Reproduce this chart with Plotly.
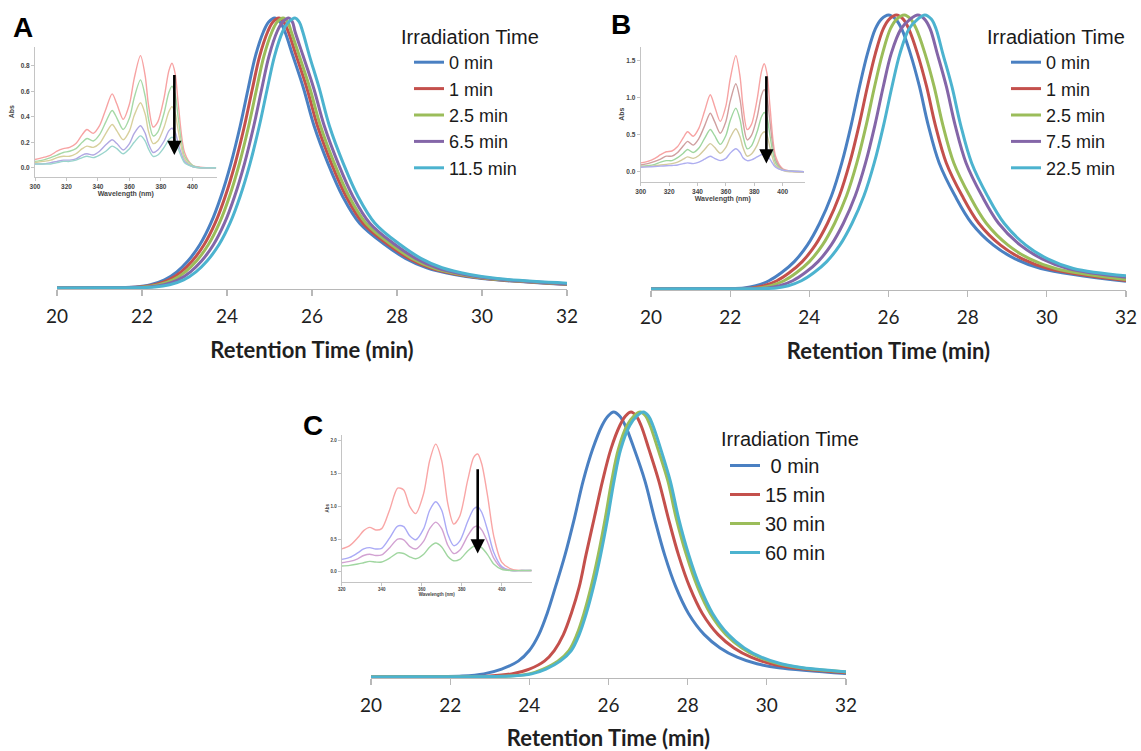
import plotly.graph_objects as go

W, H = 1141, 751

# ---------------- main chromatograms (normalised detector response) ----------------
# each curve: retention times (min) at which it crosses the response levels listed
COLORS_MAIN = ['#4a80c2', '#c4504c', '#9bbd5a', '#8466a8', '#4cb3cf']

LABELS_A = ['0 min', '1 min', '2.5 min', '6.5 min', '11.5 min']
LEVELS_A = [0, 0.001, 0.004, 0.012, 0.03, 0.06, 0.1, 0.16, 0.24, 0.34, 0.46, 0.6, 0.74, 0.86, 0.95, 0.985, 1.0,
            0.985, 0.95, 0.86, 0.74, 0.6, 0.46, 0.34, 0.24, 0.16, 0.11, 0.075, 0.05, 0.035]
A_X = [
    [20, 21, 21.85, 22.2, 22.53, 22.82, 23.08, 23.36, 23.62, 23.86, 24.09, 24.31, 24.5, 24.67, 24.86, 24.98, 25.12,
     25.25, 25.36, 25.55, 25.8, 26.05, 26.38, 26.72, 27.12, 27.72, 28.2, 28.7, 29.35, 30.0, 32],
    [20, 21, 21.95, 22.3, 22.63, 22.92, 23.18, 23.46, 23.72, 23.96, 24.19, 24.41, 24.6, 24.77, 24.96, 25.08, 25.22,
     25.34, 25.44, 25.63, 25.88, 26.13, 26.46, 26.8, 27.2, 27.8, 28.28, 28.78, 29.43, 30.08, 32],
    [20, 21, 22.05, 22.4, 22.73, 23.02, 23.28, 23.56, 23.82, 24.06, 24.29, 24.51, 24.7, 24.87, 25.06, 25.18, 25.32,
     25.43, 25.51, 25.7, 25.95, 26.2, 26.53, 26.87, 27.27, 27.87, 28.35, 28.85, 29.5, 30.15, 32],
    [20, 21, 22.17, 22.52, 22.85, 23.14, 23.4, 23.68, 23.94, 24.18, 24.41, 24.63, 24.82, 24.99, 25.18, 25.31, 25.45,
     25.54, 25.6, 25.79, 26.04, 26.29, 26.62, 26.96, 27.36, 27.96, 28.44, 28.94, 29.59, 30.24, 32],
    [20, 21, 22.3, 22.65, 22.98, 23.27, 23.53, 23.81, 24.07, 24.31, 24.54, 24.76, 24.95, 25.12, 25.31, 25.45, 25.6,
     25.7, 25.78, 25.94, 26.17, 26.41, 26.74, 27.08, 27.48, 28.08, 28.56, 29.06, 29.71, 30.36, 32],
]
A_END = [0.013, 0.014, 0.015, 0.016, 0.018]

LABELS_B = ['0 min', '1 min', '2.5 min', '7.5 min', '22.5 min']
LEVELS_B = [0, 0.001, 0.004, 0.012, 0.03, 0.06, 0.1, 0.16, 0.24, 0.34, 0.46, 0.6, 0.74, 0.86, 0.95, 0.985, 1.0,
            0.985, 0.95, 0.86, 0.74, 0.6, 0.46, 0.34, 0.24, 0.16, 0.11, 0.075]
B_X = [
    [20, 21, 22.35, 22.65, 22.98, 23.3, 23.62, 23.95, 24.26, 24.56, 24.82, 25.06, 25.27, 25.47, 25.67, 25.82, 26.0,
     26.18, 26.33, 26.55, 26.78, 27.0, 27.28, 27.68, 28.1, 28.65, 29.2, 29.85, 32],
    [20, 21, 22.55, 22.85, 23.18, 23.5, 23.82, 24.15, 24.46, 24.76, 25.02, 25.26, 25.47, 25.67, 25.87, 26.02, 26.2,
     26.37, 26.51, 26.73, 26.96, 27.18, 27.46, 27.86, 28.28, 28.83, 29.38, 30.03, 32],
    [20, 21, 22.73, 23.03, 23.36, 23.68, 24.0, 24.33, 24.64, 24.94, 25.2, 25.44, 25.65, 25.85, 26.05, 26.21, 26.4,
     26.56, 26.7, 26.92, 27.15, 27.37, 27.65, 28.05, 28.47, 29.02, 29.57, 30.22, 32],
    [20, 21, 22.95, 23.25, 23.58, 23.9, 24.22, 24.55, 24.86, 25.16, 25.42, 25.66, 25.87, 26.07, 26.32, 26.55, 26.74,
     26.91, 27.05, 27.23, 27.46, 27.68, 27.96, 28.36, 28.78, 29.33, 29.88, 30.53, 32],
    [20, 21, 23.17, 23.47, 23.8, 24.12, 24.44, 24.77, 25.08, 25.38, 25.64, 25.88, 26.09, 26.29, 26.52, 26.74, 26.92,
     27.08, 27.2, 27.37, 27.6, 27.82, 28.1, 28.5, 28.92, 29.47, 30.02, 30.67, 32],
]
B_END = [0.028, 0.031, 0.035, 0.043, 0.048]

LABELS_C = ['\u00a00 min', '15 min', '30 min', '60 min']
COLORS_C = ['#4a80c2', '#c4504c', '#9bbd5a', '#4cb3cf']
LEVELS_C = [0, 0.001, 0.004, 0.012, 0.03, 0.06, 0.1, 0.16, 0.24, 0.34, 0.46, 0.6, 0.74, 0.86, 0.95, 0.985, 1.0,
            0.985, 0.95, 0.86, 0.74, 0.6, 0.46, 0.34, 0.24, 0.16, 0.11, 0.075, 0.05, 0.035]
C_X = [
    [20, 21, 22.3, 22.85, 23.3, 23.72, 24.0, 24.24, 24.45, 24.66, 24.9, 25.14, 25.36, 25.6, 25.84, 25.99, 26.13,
     26.28, 26.42, 26.65, 26.92, 27.16, 27.42, 27.7, 28.02, 28.42, 28.82, 29.25, 29.75, 30.3, 32],
    [20, 21, 23.0, 23.55, 24.0, 24.38, 24.63, 24.86, 25.06, 25.26, 25.43, 25.64, 25.85, 26.06, 26.29, 26.43, 26.57,
     26.7, 26.82, 27.02, 27.27, 27.51, 27.77, 28.05, 28.37, 28.77, 29.17, 29.6, 30.1, 30.65, 32],
    [20, 21, 23.5, 24.0, 24.35, 24.72, 25.0, 25.2, 25.38, 25.56, 25.74, 25.92, 26.08, 26.25, 26.47, 26.64, 26.8,
     26.94, 27.05, 27.25, 27.5, 27.71, 27.97, 28.25, 28.57, 28.97, 29.37, 29.8, 30.3, 30.85, 32],
    [20, 21, 23.55, 24.06, 24.42, 24.78, 25.06, 25.26, 25.44, 25.62, 25.8, 25.98, 26.14, 26.31, 26.54, 26.72, 26.88,
     27.01, 27.12, 27.32, 27.56, 27.77, 28.03, 28.31, 28.63, 29.03, 29.43, 29.86, 30.36, 30.91, 32],
]
C_END = [0.013, 0.016, 0.019, 0.02]

X_TICKS = [20, 22, 24, 26, 28, 30, 32]

# ---------------- inset absorbance spectra ----------------
WL_AB = [300, 305, 310, 314, 318, 322, 326, 330, 333, 337, 341, 345, 349, 352, 356, 360,
         363, 367, 370, 372, 375, 378, 382, 385, 387, 389, 391, 395, 400, 405, 415]
SPEC_A = [
    [0.065, 0.08, 0.10, 0.13, 0.15, 0.16, 0.19, 0.26, 0.30, 0.27, 0.33, 0.46, 0.58, 0.50, 0.38, 0.50, 0.70, 0.88, 0.72, 0.50, 0.32, 0.36, 0.55, 0.76, 0.82, 0.74, 0.50, 0.12, 0.02, 0.005, 0.0],
    [0.05, 0.06, 0.08, 0.10, 0.12, 0.13, 0.15, 0.20, 0.23, 0.21, 0.26, 0.36, 0.45, 0.39, 0.30, 0.39, 0.55, 0.69, 0.56, 0.39, 0.25, 0.28, 0.43, 0.59, 0.64, 0.58, 0.39, 0.09, 0.02, 0.0, 0.0],
    [0.04, 0.05, 0.06, 0.08, 0.09, 0.09, 0.11, 0.15, 0.17, 0.16, 0.19, 0.27, 0.34, 0.29, 0.22, 0.29, 0.41, 0.51, 0.42, 0.29, 0.19, 0.21, 0.32, 0.44, 0.48, 0.43, 0.29, 0.07, 0.01, 0.0, 0.0],
    [0.03, 0.03, 0.04, 0.05, 0.06, 0.06, 0.07, 0.10, 0.11, 0.10, 0.13, 0.18, 0.22, 0.19, 0.14, 0.19, 0.27, 0.33, 0.27, 0.19, 0.12, 0.14, 0.21, 0.29, 0.31, 0.28, 0.19, 0.05, 0.01, 0.0, 0.0],
    [0.03, 0.03, 0.03, 0.04, 0.05, 0.05, 0.06, 0.08, 0.09, 0.08, 0.10, 0.13, 0.17, 0.15, 0.11, 0.15, 0.20, 0.25, 0.21, 0.15, 0.09, 0.10, 0.16, 0.22, 0.24, 0.22, 0.15, 0.04, 0.01, 0.0, 0.0],
]
SPEC_A_COLORS = ['#f7a3a3', '#a6d9a6', '#d8d09c', '#b1a8e2', '#9ad5cd']

SPEC_B = [
    [0.12, 0.14, 0.18, 0.23, 0.27, 0.28, 0.34, 0.46, 0.54, 0.48, 0.59, 0.82, 1.04, 0.89, 0.68, 0.89, 1.25, 1.57, 1.28, 0.89, 0.57, 0.64, 0.98, 1.35, 1.46, 1.32, 0.89, 0.21, 0.04, 0.01, 0.0],
    [0.09, 0.11, 0.14, 0.17, 0.21, 0.21, 0.26, 0.35, 0.41, 0.36, 0.45, 0.62, 0.79, 0.68, 0.52, 0.68, 0.95, 1.19, 0.97, 0.68, 0.43, 0.49, 0.74, 1.03, 1.11, 1.00, 0.68, 0.16, 0.03, 0.01, 0.0],
    [0.07, 0.08, 0.10, 0.13, 0.15, 0.15, 0.19, 0.25, 0.30, 0.26, 0.32, 0.45, 0.57, 0.49, 0.37, 0.49, 0.69, 0.86, 0.70, 0.49, 0.31, 0.35, 0.54, 0.74, 0.80, 0.73, 0.49, 0.12, 0.02, 0.01, 0.0],
    [0.07, 0.07, 0.08, 0.09, 0.10, 0.11, 0.13, 0.17, 0.20, 0.18, 0.22, 0.30, 0.38, 0.33, 0.25, 0.33, 0.46, 0.58, 0.47, 0.33, 0.21, 0.24, 0.36, 0.50, 0.54, 0.49, 0.33, 0.08, 0.02, 0.0, 0.0],
    [0.06, 0.065, 0.07, 0.075, 0.08, 0.085, 0.09, 0.11, 0.12, 0.11, 0.13, 0.17, 0.21, 0.18, 0.15, 0.18, 0.25, 0.31, 0.26, 0.19, 0.15, 0.16, 0.20, 0.23, 0.24, 0.22, 0.17, 0.06, 0.02, 0.01, 0.0],
]
SPEC_B_COLORS = ['#f7a3a3', '#cf9f9f', '#9fd69f', '#d3cb9e', '#aeaef0']

WL_C = [320, 324, 328, 331, 334, 337, 340, 344, 348, 351, 354, 357, 361, 364, 367, 370,
        373, 376, 379, 383, 386, 388, 390, 393, 396, 400, 405, 410, 415]
SPEC_C = [
    [0.35, 0.40, 0.52, 0.63, 0.68, 0.64, 0.66, 0.95, 1.28, 1.25, 1.00, 0.89, 1.20, 1.70, 1.95, 1.70, 1.05, 0.73, 0.85, 1.40, 1.75, 1.80, 1.65, 1.15, 0.55, 0.15, 0.04, 0.02, 0.02],
    [0.19, 0.22, 0.29, 0.35, 0.37, 0.35, 0.36, 0.52, 0.70, 0.69, 0.55, 0.49, 0.66, 0.94, 1.07, 0.94, 0.58, 0.40, 0.47, 0.77, 0.96, 0.99, 0.91, 0.63, 0.30, 0.08, 0.02, 0.02, 0.02],
    [0.14, 0.16, 0.20, 0.25, 0.27, 0.25, 0.26, 0.37, 0.50, 0.49, 0.39, 0.35, 0.47, 0.66, 0.76, 0.66, 0.41, 0.28, 0.33, 0.55, 0.68, 0.70, 0.64, 0.45, 0.21, 0.06, 0.02, 0.02, 0.02],
    [0.09, 0.10, 0.12, 0.14, 0.16, 0.15, 0.15, 0.21, 0.29, 0.28, 0.23, 0.20, 0.27, 0.38, 0.44, 0.38, 0.24, 0.17, 0.19, 0.32, 0.39, 0.40, 0.37, 0.26, 0.12, 0.04, 0.02, 0.02, 0.02],
]
SPEC_C_COLORS = ['#f9a6a6', '#aaaaf6', '#d2a2d2', '#a0d6a0']

# arrow (wavelength, top, tip) per inset
ARROW_A = (388.5, 0.74, 0.10)
ARROW_B = (388.5, 1.31, 0.11)
ARROW_C = (388.0, 1.59, 0.28)


def px_x(p):
    return p / W


def px_y(p):
    return 1 - p / H


fig = go.Figure()

main_sets = [
    ('x', 'y', 'legend', LABELS_A, LEVELS_A, A_X, A_END, COLORS_MAIN),
    ('x2', 'y2', 'legend2', LABELS_B, LEVELS_B, B_X, B_END, COLORS_MAIN),
    ('x3', 'y3', 'legend3', LABELS_C, LEVELS_C, C_X, C_END, COLORS_C),
]
for xa, ya, lg, labels, levels, xs, ends, cols in main_sets:
    for lab, xv, e, c in zip(labels, xs, ends, cols):
        fig.add_trace(go.Scatter(
            x=xv, y=levels + [e], mode='lines', name=lab,
            line=dict(color=c, width=3.0, shape='spline', smoothing=1.0),
            xaxis=xa, yaxis=ya, legend=lg, showlegend=True, hoverinfo='skip'))

inset_sets = [
    ('x4', 'y4', WL_AB, SPEC_A, SPEC_A_COLORS),
    ('x5', 'y5', WL_AB, SPEC_B, SPEC_B_COLORS),
    ('x6', 'y6', WL_C, SPEC_C, SPEC_C_COLORS),
]
for xa, ya, wl, specs, cols in inset_sets:
    for s, c in zip(specs, cols):
        fig.add_trace(go.Scatter(
            x=wl, y=s, mode='lines', line=dict(color=c, width=1.4, shape='spline', smoothing=0.8),
            xaxis=xa, yaxis=ya, showlegend=False, hoverinfo='skip'))

TICK_FONT = dict(family='Lato', size=19, color='#1f1f1f')
TITLE_FONT = dict(family='Lato', size=22, color='#1f1f1f', weight='bold')


def main_x(domain, anchor):
    return dict(domain=domain, range=[20, 32], anchor=anchor, tickvals=X_TICKS,
                showline=True, linecolor='#b8b8b8', linewidth=1.2, ticks='outside',
                ticklen=6, tickcolor='#b8b8b8', tickwidth=1.2, showgrid=False,
                zeroline=False, tickfont=TICK_FONT, ticklabelstandoff=4, automargin=False,
                title=dict(text='Retention Time (min)', font=TITLE_FONT, standoff=16))


def main_y(domain, anchor):
    return dict(domain=domain, range=[-0.004, 1.02], anchor=anchor, visible=False,
                showgrid=False, zeroline=False)


INSET_TICK = dict(family='Liberation Sans', size=6.5, color='#454545', weight='bold')
INSET_TICK_C = dict(family='Liberation Sans', size=4.5, color='#454545', weight='bold')


def inset_x(domain, anchor, rng, tv, font, title_size, standoff):
    return dict(domain=domain, range=rng, anchor=anchor, tickvals=tv, showline=True,
                linecolor='#c4c4c4', linewidth=1, ticks='outside', ticklen=3,
                tickcolor='#c4c4c4', showgrid=False, zeroline=False, tickfont=font,
                automargin=False,
                title=dict(text='Wavelength (nm)', standoff=standoff,
                           font=dict(family='Liberation Sans', size=title_size,
                                     color='#454545', weight='bold')))


def inset_y(domain, anchor, rng, tv, font, title_size, standoff):
    return dict(domain=domain, range=rng, anchor=anchor, tickvals=tv, tickformat='.1f',
                showline=True, linecolor='#c4c4c4', linewidth=1, ticks='outside',
                ticklen=3, tickcolor='#c4c4c4', showgrid=False, zeroline=False,
                tickfont=font, automargin=False,
                title=dict(text='Abs', standoff=standoff,
                           font=dict(family='Liberation Sans', size=title_size,
                                     color='#454545', weight='bold')))


LEG_FONT = dict(family='Liberation Sans', size=18, color='#1a1a1a')
LEG_FONT_C = dict(family='Liberation Sans', size=20, color='#1a1a1a')
LEG_TITLE_FONT = dict(family='Liberation Sans', size=20, color='#1a1a1a')

fig.update_layout(
    width=W, height=H, margin=dict(l=0, r=0, t=0, b=0, pad=0, autoexpand=False),
    paper_bgcolor='white', plot_bgcolor='rgba(0,0,0,0)',
    xaxis=main_x([px_x(57), px_x(567)], 'y'),
    yaxis=main_y([px_y(289.1), px_y(12.6)], 'x'),
    xaxis2=main_x([px_x(651), px_x(1126)], 'y2'),
    yaxis2=main_y([px_y(290.1), px_y(9.5)], 'x2'),
    xaxis3=main_x([px_x(371), px_x(846)], 'y3'),
    yaxis3=main_y([px_y(678.1), px_y(406.7)], 'x3'),
    xaxis4=inset_x([px_x(35), px_x(216.7)], 'y4', [300, 415.4], [300, 320, 340, 360, 380, 400], INSET_TICK, 7, 2),
    yaxis4=inset_y([px_y(176.7), px_y(46.7)], 'x4', [-0.07, 0.95], [0, 0.2, 0.4, 0.6, 0.8], INSET_TICK, 7, 5),
    xaxis5=inset_x([px_x(640.7), px_x(805)], 'y5', [300, 415.7], [300, 320, 340, 360, 380, 400], INSET_TICK, 7, 2),
    yaxis5=inset_y([px_y(181.7), px_y(46.7)], 'x5', [-0.135, 1.69], [0, 0.5, 1.0, 1.5], INSET_TICK, 7, 0),
    xaxis6=inset_x([px_x(341.7), px_x(531.7)], 'y6', [320, 415], [320, 340, 360, 380, 400], INSET_TICK_C, 4.5, 1),
    yaxis6=inset_y([px_y(581.7), px_y(435)], 'x6', [-0.15, 2.09], [0, 0.5, 1.0, 1.5, 2.0], INSET_TICK_C, 4.5, 0),
    legend=dict(x=px_x(399), y=px_y(18), xanchor='left', yanchor='top', font=LEG_FONT,
                bgcolor='rgba(0,0,0,0)', indentation=10, tracegroupgap=0,
                title=dict(text='Irradiation Time', font=LEG_TITLE_FONT)),
    legend2=dict(x=px_x(985), y=px_y(18), xanchor='left', yanchor='top', font=LEG_FONT,
                 bgcolor='rgba(0,0,0,0)', indentation=21, tracegroupgap=0,
                 title=dict(text='Irradiation Time', font=LEG_TITLE_FONT)),
    legend3=dict(x=px_x(719), y=px_y(420), xanchor='left', yanchor='top', font=LEG_FONT_C,
                 bgcolor='rgba(0,0,0,0)', indentation=6, tracegroupgap=0,
                 title=dict(text='Irradiation Time', font=LEG_TITLE_FONT)),
)

# panel letters
for letter, xp, yp in [('A', 23, 27), ('B', 621, 25), ('C', 313, 425)]:
    fig.add_annotation(x=px_x(xp), y=px_y(yp), xref='paper', yref='paper', text=letter,
                       showarrow=False, xanchor='center', yanchor='middle',
                       font=dict(family='Liberation Sans', size=28, color='#000000', weight='bold'))

# arrows in insets
for (wl, top, tip), xa, ya in [(ARROW_A, 'x4', 'y4'), (ARROW_B, 'x5', 'y5'), (ARROW_C, 'x6', 'y6')]:
    fig.add_annotation(x=wl, y=tip, ax=wl, ay=top, xref=xa, yref=ya, axref=xa, ayref=ya,
                       text='', showarrow=True, arrowhead=2, arrowsize=1.1, arrowwidth=2.6,
                       arrowcolor='#000000')

fig.write_html('out.html', config={'displayModeBar': False, 'staticPlot': True},
               post_script="document.body.style.margin='0px';document.body.style.overflow='hidden';")
